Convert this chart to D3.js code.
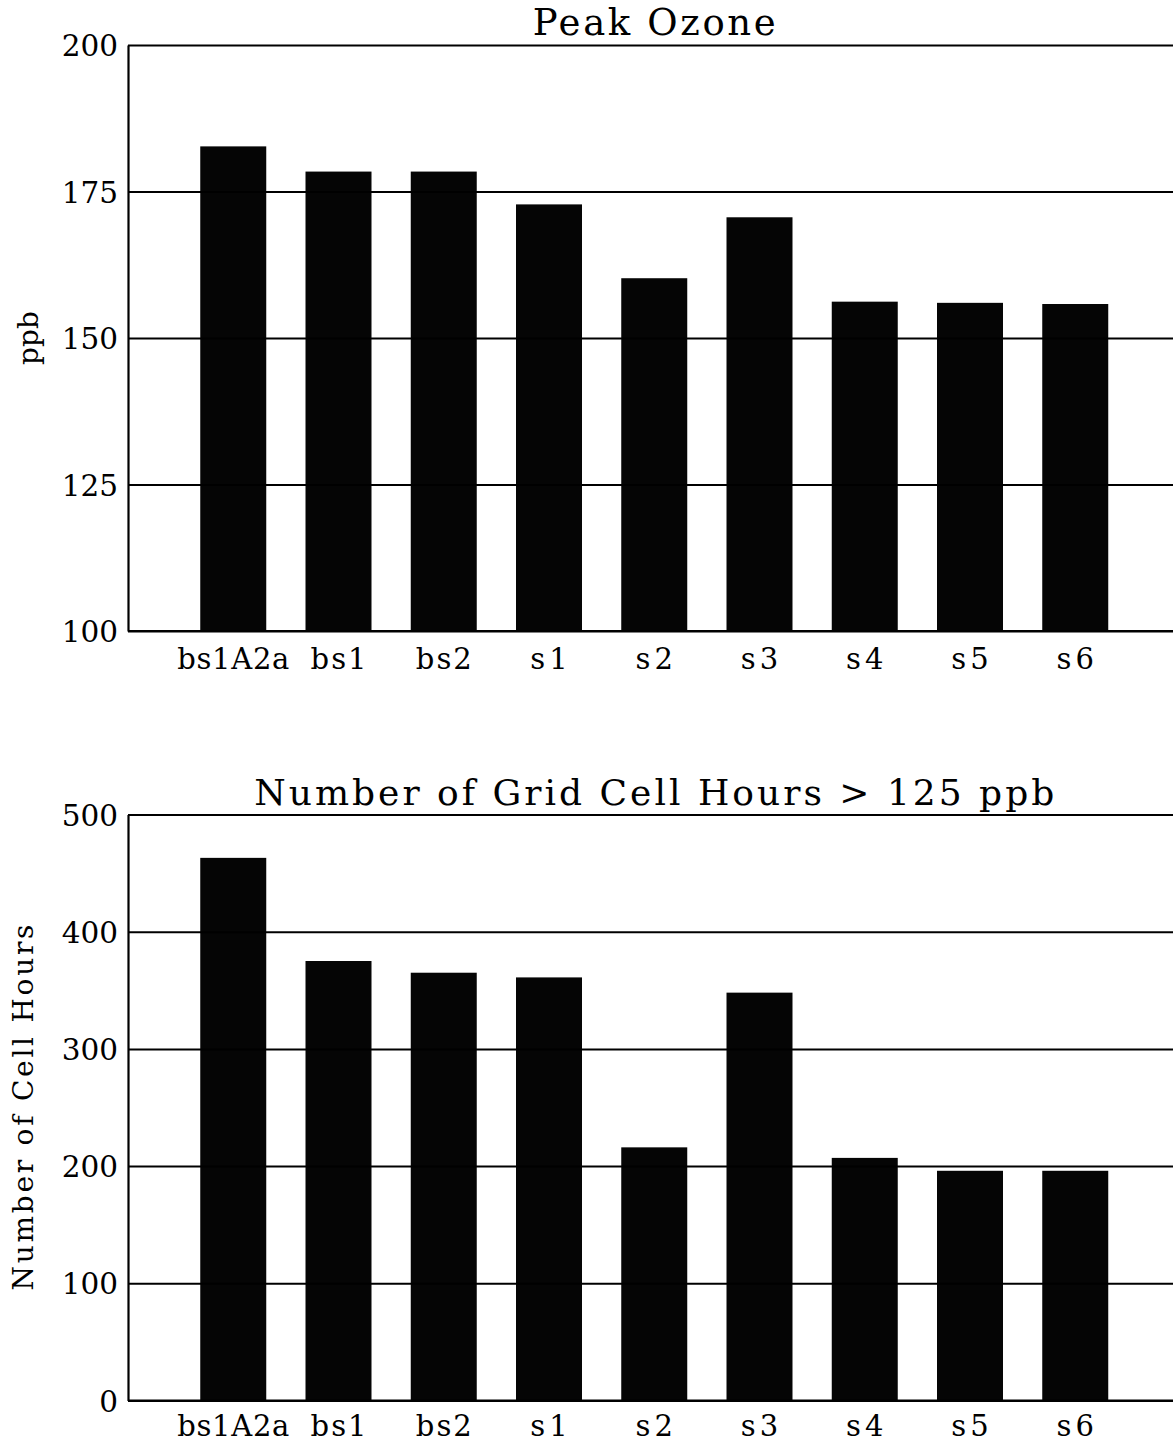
<!DOCTYPE html>
<html>
<head>
<meta charset="utf-8">
<script src="https://cdn.jsdelivr.net/npm/d3@7"></script>
<style>
  html, body { margin: 0; padding: 0; background: #fff; }
  svg { display: block; }
  text { font-family: "DejaVu Serif", "Liberation Serif", serif; fill: #000; }
</style>
</head>
<body>
<svg id="chart" width="1173" height="1445"></svg>
<script>
// ---- data ----
const categories = ["bs1A2a", "bs1", "bs2", "s1", "s2", "s3", "s4", "s5", "s6"];
const peakOzone = [182.7, 178.4, 178.4, 172.8, 160.2, 170.6, 156.2, 156.0, 155.8];
const cellHours = [463, 375, 365, 361, 216, 348, 207, 196, 196];
const ozoneTicks = [100, 125, 150, 175, 200];
const hoursTicks = [0, 100, 200, 300, 400, 500];

const svg = d3.select("#chart");
const left = 128;
const step = 105.25;
const plotRight = left + step * 10;
const charW = 18.7;

const x = d3.scaleBand()
  .domain(categories)
  .range([left + step * 0.5, left + step * 9.5])
  .paddingInner(0.373)
  .paddingOuter(0.1865);

function panel(cfg) {
  const y = d3.scaleLinear().domain(cfg.domain).range([cfg.bottom, cfg.top]);
  const g = svg.append("g");

  // bars
  g.selectAll("rect.bar")
    .data(cfg.values)
    .join("rect")
    .attr("class", "bar")
    .attr("x", (d, i) => x(categories[i]))
    .attr("width", x.bandwidth())
    .attr("y", d => y(d))
    .attr("height", d => y(cfg.domain[0]) - y(d))
    .attr("fill", "#050505");

  // gridlines
  const grid = d3.axisLeft(y).tickValues(cfg.ticks).tickSize(-(plotRight - left)).tickFormat("");
  const gg = g.append("g").attr("transform", `translate(${left},0)`).call(grid);
  gg.select(".domain").remove();
  gg.selectAll(".tick line").attr("stroke", "#000").attr("stroke-width", 2);

  // left axis with labels
  const ax = d3.axisLeft(y).tickValues(cfg.ticks).tickSize(0).tickPadding(10).tickFormat(d3.format("d"));
  const ag = g.append("g").attr("transform", `translate(${left},0)`).call(ax);
  ag.select(".domain").attr("stroke", "#000").attr("stroke-width", 2.2);
  ag.selectAll(".tick text")
    .style("font-family", '"DejaVu Serif", serif')
    .style("font-size", "29.5px")
    .attr("dy", "0.36em");

  // bottom axis with category labels
  const bx = d3.axisBottom(x).tickSize(0).tickPadding(0);
  const bg = g.append("g").attr("transform", `translate(0,${cfg.bottom})`).call(bx);
  bg.select(".domain").remove();
  bg.append("line").attr("x1", left).attr("x2", plotRight).attr("y1", 0).attr("y2", 0)
    .attr("stroke", "#000").attr("stroke-width", 2.2);
  bg.selectAll(".tick text")
    .style("font-family", '"DejaVu Serif", serif')
    .style("font-size", "29px")
    .attr("dy", null)
    .attr("y", cfg.labelBase - cfg.bottom)
    .attr("textLength", d => d.length * charW)
    .attr("lengthAdjust", "spacing");

  // title
  g.append("text")
    .attr("x", (left + plotRight) / 2)
    .attr("y", cfg.titleBase)
    .attr("text-anchor", "middle")
    .attr("textLength", cfg.titleLen)
    .attr("lengthAdjust", "spacing")
    .style("font-size", cfg.titleSize + "px")
    .text(cfg.title);

  // y label
  g.append("text")
    .attr("transform", `translate(${cfg.ylabX},${(cfg.top + cfg.bottom) / 2}) rotate(-90)`)
    .attr("text-anchor", "middle")
    .attr("textLength", cfg.ylabLen)
    .attr("lengthAdjust", "spacing")
    .style("font-size", "28px")
    .text(cfg.ylabel);
}

panel({
  values: peakOzone, domain: [100, 200], ticks: ozoneTicks,
  top: 45, bottom: 631, labelBase: 669, titleBase: 35, titleSize: 37, titleLen: 243,
  title: "Peak Ozone", ylabel: "ppb", ylabX: 38, ylabLen: 54
});

panel({
  values: cellHours, domain: [0, 500], ticks: hoursTicks,
  top: 814.5, bottom: 1400.5, labelBase: 1436, titleBase: 805, titleSize: 36, titleLen: 800,
  title: "Number of Grid Cell Hours > 125 ppb", ylabel: "Number of Cell Hours", ylabX: 33, ylabLen: 366
});
</script>
</body>
</html>
